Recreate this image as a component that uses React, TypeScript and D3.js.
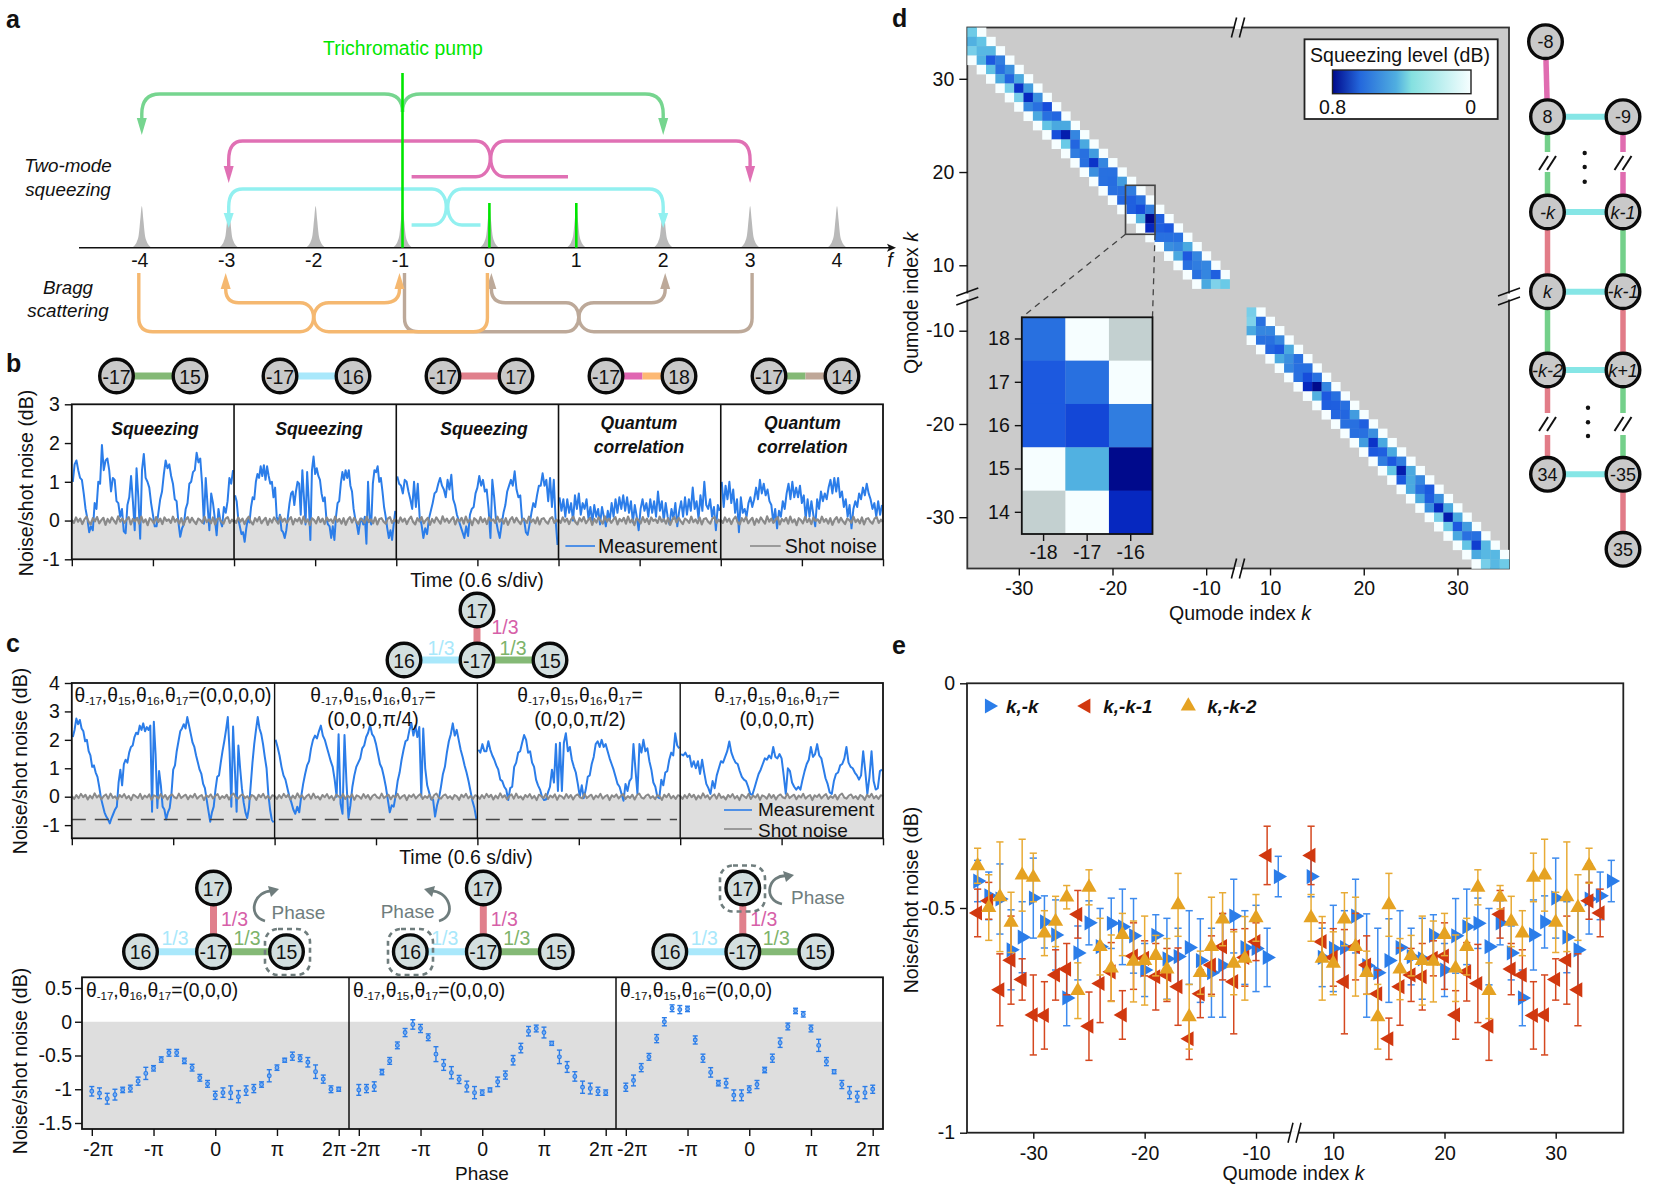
import React, {useEffect, useRef} from 'react';
import * as d3 from "d3"

const FONT = '"Liberation Sans", Arial, sans-serif'
const BLUE = '#2b7de9'
const GRAY_LINE = '#8a8a8a'
const LINK = {green:'#84b976', cyan:'#a9e8fb', red:'#e0808c', pink:'#e066b2', orange:'#fdb974', brown:'#bfa798'}

// panel a
const combLabels = [-4,-3,-2,-1,0,1,2,3,4]
const peakProfile:[number,number][] = [[-10,0],[-7,.06],[-5,.14],[-3,.32],[-1.5,.68],[0,1],[1.5,.68],[3,.32],[5,.14],[7,.06],[10,0]]

// panel b traces, noise/shot noise in dB
const traceB1 = [1.0,1.45,1.55,1.3,1.1,1.05,.7,.3,.05,-.3,-.15,-.25,.45,.3,1.0,.95,1.95,1.3,1.55,1.6,1.3,.75,1.1,1.05,.5,.45,.1,.3,-.28,-.33,.4,.6,1.15,.5,-.25,1.35,.6,-.47,1.3,1.72,1.1,1.0,.85,.45,.15,-.15,-.15,.2,.55,.75,1.2,1.55,1.35,1.45,1.15,.95,.55,.5,-.05,-.42,-.2,-.1,.3,.45,.95,1.0,1.25,1.3,1.75,1.5,1.6,.95,-.08,1.1,.4,-.25,.7,.45,.05,-.38,.3,0,-.15,.35,.2,.5,1.1,.95,1.3]
const traceB2 = [.65,.5,.05,-.15,-.35,-.3,-.55,-.2,.05,-.05,.35,.6,.55,1.0,1.2,1.1,1.4,1.15,1.43,1.05,1.4,1.15,.95,1.0,.6,.85,.1,-.05,.15,-.25,-.3,-.45,-.25,.1,.45,.7,.75,.4,.75,1.0,.95,.15,1.3,.6,-.1,1.25,.5,-.5,1.3,1.65,1.2,1.35,1.15,1.05,.7,.5,.6,.05,-.1,-.15,-.45,-.15,-.5,.1,.45,.5,.95,1.25,1.05,1.3,1.1,1.3,.9,.75,.3,.05,-.1,-.35,-.05,.05,-.1,.1,-.6,1.0,.1,-.1,.95,1.3,1.25,1.4,1.0,1.1,.75,.35,.1,-.2,-.45,-.25,-.5,-.1,.25]
const traceB3 = [1.14,.95,.9,.7,1.05,1.0,.75,.55,.3,1.0,.35,.95,.1,-.1,-.45,-.2,-.35,.05,.25,.45,.7,.75,.95,1.1,.9,.8,.6,1.05,.8,1.18,.55,.4,.15,0,-.15,-.3,-.45,-.15,-.4,.15,.3,.35,.7,.85,1.15,.9,1.05,.75,.8,.3,-.45,1.05,.6,0,-.25,-.45,-.1,.2,.4,.75,.9,1.05,.9,1.27,.8,.6,.65,0,.05,-.3,-.37,-.1,.2,.45,.35,.65,.9,.9,1.22,.9,1.05,.5,1.1,.35,1.05,0,-.63]
const traceB4 = [.6,.25,.55,.1,.55,.2,.45,0,.65,.3,.7,.15,.45,.3,.55,.05,.35,-.05,.4,.1,.3,-.1,.35,.1,-.15,.25,0,.45,.1,.55,.2,.6,.3,.65,.25,.6,.2,.5,-.05,.4,.1,-.25,.3,.55,.25,.45,.1,.55,.2,.5,.1,.75,.25,.5,0,.45,.1,-.1,.3,.05,.45,-.15,.25,.5,.1,.6,.15,.55,.25,.85,.3,.5,.05,.65,.25,1.0,.4,.3,.55,.1,.35,-.25,.4,.25]
const traceB5 = [1.0,.35,.9,.55,1.0,.45,.8,.2,.55,-.3,.6,.2,.3,.1,.45,.6,.35,.55,.85,.55,1.05,.7,.95,.65,.8,.5,.4,-.05,.3,-.2,.25,.1,.5,.3,.7,.95,.55,1.0,.6,.85,.6,.9,.45,.65,.05,.55,.1,.5,.15,-.15,.55,.3,.75,.5,.7,.55,.85,1.05,.7,1.1,.75,1.1,.6,.75,.35,.55,.1,.4,-.2,.3,.5,.35,.7,.55,.85,.65,.95,.7,.55,.3,.45,.1,.5,.15,.4]
const shotNoiseB = [.02,-.06,.08,-.03,.05,-.09,.03,.1,-.04,-.1,.06,-.02,.09,-.07,.01,.07,-.11,.04,-.05,.08,0,-.08,.11,-.03,.05,-.06,.02,.09,-.1,.04,-.02,.07,-.08,.1,-.05,.03,-.12,.06,.01,-.07,.09,-.04,.05,-.09,.08,-.01,.03,-.06,.1,-.03,.04,-.08,.06,-.11,.02,.09,-.05,.07,-.02,-.09,.05,.01,-.06,.1,-.04,.03,-.07,.08,-.1,.04,.06,-.03,-.08,.05,.09,-.06,.02,-.04]
const blockLabelsB = ['Squeezing','Squeezing','Squeezing',['Quantum','correlation'],['Quantum','correlation']]

// panel c traces
const traceC1 = [2.1,2.35,2.75,2.55,2.7,2.4,2.3,1.95,2.0,1.6,1.45,1.05,1.1,.85,.7,.35,-.05,-.3,-.55,-.7,-.8,-.94,-.75,-.6,-.45,-.35,.5,.95,.4,1.15,1.3,1.2,1.55,1.75,1.8,2.1,2.25,2.2,2.5,2.35,2.58,2.3,2.45,2.35,2.5,-.53,2.64,1.5,-.4,.9,.4,-.35,-.45,-.8,-.55,-.4,.1,.95,1.1,1.6,1.95,2.3,2.4,2.55,2.4,2.8,2.5,2.2,1.9,1.75,1.45,1.2,.95,.8,.45,.3,-.1,-.5,-.88,-.55,-.35,.25,.7,.75,1.2,1.6,1.95,2.35,2.8,1.6,-.35,2.47,1.0,-.53,1.8,1.0,.3,-.2,-.55,-.75,-.4,.4,1.2,1.85,2.35,2.8,2.4,2.2,1.85,1.4,1.0,.1,-.45,-.82,-.9]
const traceC2 = [2.0,1.75,1.45,1.05,.75,.6,.3,0,-.2,-.45,-.6,-.35,-.55,0,.45,.8,1.1,1.25,1.7,2.0,2.15,2.05,2.3,2.5,2.15,2.0,1.75,1.5,1.25,1.05,.6,0,2.2,-.25,-.6,2.17,.5,-.75,-.3,.35,.75,1.05,1.2,1.35,1.7,1.8,2.1,2.25,2.52,2.2,2.1,1.85,1.5,1.15,1.0,.7,.35,-.1,-.55,-.3,-.35,.05,.55,.85,1.3,1.65,1.95,2.0,2.35,2.58,2.15,2.5,2.1,2.45,0,2.4,1.0,.4,.15,-.1,-.1,-.7,-.3,-.05,.35,.8,1.05,1.55,1.95,2.2,2.58,2.15,2.35,2.0,1.65,1.4,1.1,.85,.55,.2,-.15,-.4,-.8]
const traceC3 = [1.65,1.55,1.85,1.6,1.6,1.95,1.65,1.45,1.3,1.1,.95,.6,.55,.35,.25,-.12,.3,.35,1.05,1.2,1.55,1.6,1.9,2.17,2.0,1.55,1.6,1.2,1.05,.6,.4,.25,0,-.12,-.1,.15,.35,.95,.5,1.85,.2,1.9,.2,1.9,2.23,1.6,1.75,1.3,1.05,.85,.45,0,.4,-.05,.25,.7,.75,1.15,1.4,1.85,1.95,1.75,2.0,1.75,1.85,1.6,1.35,1.15,.95,.7,.45,.35,.1,-.14,.45,.2,.55,.65,1.85,.95,.1,1.85,1.55,2.0,1.6,1.7,1.25,.95,.5,.35,0,-.05,.6,.4,.85,.9,1.3,1.55,1.45,2.23,1.8,1.7]
const traceC4 = [1.5,1.45,1.55,1.4,1.45,1.05,1.25,1.0,1.25,.8,1.3,.85,.45,.3,.1,.55,.3,.75,1.0,1.25,1.2,1.4,1.6,1.94,1.55,1.35,1.2,1.15,.9,.7,.6,.55,.35,.1,.06,.3,.55,.8,.95,1.15,1.35,1.3,1.45,1.35,1.75,1.4,1.35,1.5,1.35,.75,.1,1.0,.9,.5,.35,.25,.35,.25,.6,.9,1.15,1.3,1.75,1.4,1.5,1.85,1.45,1.35,1.0,.65,.45,.15,.1,.55,.8,.85,1.1,1.15,1.35,1.75,1.2,1.05,1.0,.85,.75,.6,.75,1.6,.9,.1,.7,1.6,.55,.25,.3,.9,.95]
const shotNoiseC = [.03,-.08,.06,-.05,.1,-.02,.07,-.1,.04,-.06,.12,-.03,.05,-.09,.02,.08,-.07,.11,-.04,.01,-.1,.06,-.02,.09,-.06,.03,-.12,.07,.02,-.05,.1,-.08,.04,-.03,.08,-.11,.05,.01,-.07,.09,-.04,.06,-.1,.03,.08,-.02,-.06,.11,-.05,.02,.07,-.09,.04,-.03,.1,-.07,.01,.06,-.12,.05,-.01,.08,-.06,.03,.09,-.08,.02,-.04,.07,-.1,.05,.11,-.03,-.07,.04,.08,-.05,.02,-.09,.06,.01,-.11,.07,-.02,.1,-.06,.03,-.08,.05,.02]

// panel c phase scans
const phase1 = [-1.03,-1.06,-1.14,-1.08,-1.01,-.99,-.88,-.765,-.69,-.56,-.46,-.46,-.58,-.68,-.83,-.92,-1.09,-1.05,-1.05,-1.11,-1.02,-.99,-.93,-.8,-.68,-.57,-.51,-.54,-.6,-.74,-.85,-1.0,-1.0]
const phase2 = [-1.01,-.99,-.96,-.745,-.58,-.35,-.16,-.04,-.1,-.23,-.48,-.64,-.755,-.855,-.96,-1.05,-1.05,-1.01,-.89,-.79,-.57,-.39,-.14,-.1,-.16,-.32,-.52,-.67,-.81,-.97,-.99,-1.03,-1.05]
const phase3 = [-.97,-.87,-.68,-.52,-.25,0,.2,.18,.19,-.27,-.54,-.75,-.91,-.91,-1.09,-1.09,-1.0,-.93,-.715,-.54,-.31,-.07,.16,.11,-.1,-.35,-.59,-.74,-.93,-1.05,-1.11,-1.05,-1.0]
const phaseErr1 = [.07,.08,.08,.08,.04,.05,.06,.09,.04,.04,.05,.05,.04,.05,.05,.05,.06,.07,.1,.09,.07,.06,.04,.09,.04,.03,.06,.05,.07,.1,.06,.05,.03]
const phaseErr2 = [.08,.06,.07,.04,.05,.05,.06,.07,.06,.05,.11,.08,.09,.06,.08,.09,.04,.03,.07,.06,.07,.07,.07,.05,.08,.03,.1,.08,.07,.09,.08,.06,.04]
const phaseErr3 = [.06,.08,.06,.05,.06,.06,.05,.06,.04,.06,.06,.07,.04,.07,.08,.08,.05,.06,.04,.06,.07,.05,.04,.04,.05,.09,.06,.03,.06,.09,.08,.09,.06]
const phaseTicks = [-2,-1,0,1,2]
const phaseTickLabels = ['-2π','-π','0','π','2π']

// panel d, squeezing level for columns -k-2, -k-1, -k of rows k = 35..8
const bandUpper = [[null,null,.32],[null,.4,.35],[.3,.38,.38],[.4,.62,.52],[.36,.55,.48],[.42,.58,.42],[.3,.7,.45],[.3,.72,.48],[.5,.55,.65],[.42,.55,.58],[.35,.42,.42],[.65,.75,.5],[.33,.58,.42],[.52,.55,.45],[.55,.7,.5],[.48,.55,.55],[.55,.56,.45],[.55,.55,.52],[.58,.6,.55],[.6,.65,.52],[.4,.8,.6],[.72,.6,.62],[.55,.55,.55],[.48,.5,.42],[.42,.62,.5],[.55,.52,.5],[.55,.5,.6],[.42,.28,.33]]
// columns m-2, m-1, m of rows -m, m = 8..35
const bandLower = [[null,null,.3],[null,.28,.55],[.42,.5,.5],[.55,.55,.5],[.58,.62,.42],[.42,.48,.55],[.5,.55,.55],[.55,.65,.55],[.72,.8,.5],[.4,.62,.55],[.6,.6,.55],[.58,.58,.45],[.55,.55,.6],[.55,.55,.48],[.45,.7,.42],[.62,.6,.42],[.52,.62,.52],[.35,.75,.42],[.62,.42,.5],[.42,.55,.62],[.42,.6,.48],[.48,.72,.42],[.3,.75,.42],[.32,.62,.45],[.42,.55,.55],[.35,.68,.38],[.42,.38,.38],[.3,.38,.32]]
const insetRows = [18,17,16,15,14]
const insetCols = [-18,-17,-16]
const insetValues = [[.55,0,null],[.62,.55,0],[.62,.66,.52],[0,.4,.8],[null,0,.72]]
const levelStops = [.8,.72,.64,.55,.43,.34,0]
const levelColors = ['#000a8c','#0628c0','#1852df','#2870e0','#47a5df','#66c8e6','#f6feff']
const barStops = [0,.2,.46,.57,1]
const barColors = ['#000a8c','#2468dc','#50aee0','#84e0e0','#f6feff']

// panel e, k = -35.. ; the positive side mirrors these
const pairKK = [-.44,-.473,-.48,-.593,-.565,-.478,-.531,-.56,-.7,-.6,-.533,-.586,-.534,-.542,-.562,-.638,-.561,-.613,-.608,-.588,-.617,-.644,-.628,-.518,-.588,-.59,-.61,-.43]
const pairKKErr = [.046,.053,.078,.089,.079,.089,.058,.078,.062,.06,.049,.085,.056,.084,.083,.059,.046,.09,.063,.082,.093,.099,.115,.082,.082,.096,.065,.045]
const pairK1 = [-.511,-.484,-.682,-.616,-.659,-.738,-.739,-.649,-.636,-.514,-.763,-.668,-.642,-.738,-.607,-.612,-.653,-.649,-.675,-.791,-.691,-.627,-.586,-.664,-.61,-.575,-.383]
const pairK1Err = [.053,.041,.08,.098,.046,.089,.075,.056,.057,.053,.076,.087,.065,.054,.074,.039,.074,.059,.086,.046,.053,.065,.074,.116,.064,.042,.065]
const pairK2 = [-.406,-.499,-.475,-.532,-.427,-.432,-.556,-.53,-.476,-.684,-.454,-.586,-.634,-.559,-.619,-.617,-.606,-.636,-.493,-.742,-.644,-.586,-.525,-.623,-.612,-.522]
const pairK2Err = [.039,.073,.122,.067,.08,.054,.05,.056,.026,.062,.039,.063,.074,.047,.09,.099,.045,.068,.07,.072,.048,.11,.059,.07,.093,.052]

const plain = (d:any) => String(d)

const txt = (g:any, x:number, y:number, s:string, o:any = {}) => {
  const t = g.append('text').attr('x', x).attr('y', y)
    .attr('text-anchor', o.anchor || 'middle')
    .attr('dominant-baseline', 'central')
    .attr('font-family', FONT)
    .attr('font-size', o.size || 19.5)
    .attr('fill', o.fill || '#111')
    .text(s)
  if (o.weight) t.attr('font-weight', o.weight)
  if (o.italic) t.attr('font-style', 'italic')
  if (o.rotate) t.attr('transform', `rotate(${o.rotate} ${x} ${y})`)
  return t
}

// mixed runs in one text element, used for "Qumode index k" and the theta labels
const runs = (g:any, x:number, y:number, parts:any[], o:any = {}) => {
  const t = txt(g, x, y, '', o)
  parts.forEach(p => {
    const s = t.append('tspan').text(p.s)
    if (p.italic) s.attr('font-style', 'italic')
    if (p.sub) s.attr('font-size', 11.5).attr('dy', 6)
    if (p.up) s.attr('dy', -6)
  })
  return t
}
const thetaParts = (subs:string[], tail:string) => {
  const parts:any[] = []
  subs.forEach((n, i) => {
    parts.push({s:'θ'})
    parts.push({s:n, sub:true})
    if (i < subs.length - 1) parts.push({s:',', up:true})
  })
  parts.push({s:tail, up:true})
  return parts
}

const link = (g:any, x1:number, y1:number, x2:number, y2:number, color:string, w = 7) =>
  g.append('line').attr('x1', x1).attr('y1', y1).attr('x2', x2).attr('y2', y2).attr('stroke', color).attr('stroke-width', w)

const node = (g:any, x:number, y:number, label:string, fill:string, o:any = {}) => {
  g.append('circle').attr('cx', x).attr('cy', y).attr('r', 16.8).attr('fill', fill).attr('stroke', '#0a0a0a').attr('stroke-width', 3.4)
  txt(g, x, y + .5, label, {size:o.size || 19.5, italic:o.italic})
}

const trace = (g:any, vals:number[], x0:number, x1:number, y:any, color:string, w:number) => {
  const x = d3.scaleLinear().domain([0, vals.length - 1]).range([x0, x1])
  const line = d3.line<number>().x((_, i) => x(i)).y(d => y(d))
  g.append('path').attr('d', line(vals)).attr('fill', 'none').attr('stroke', color).attr('stroke-width', w).attr('stroke-linejoin', 'round')
}

const styleAxis = (g:any, size = 19.5) => {
  g.select('.domain').remove()
  g.selectAll('text').attr('font-family', FONT).attr('font-size', size).attr('fill', '#111')
  g.selectAll('line').attr('stroke', '#111').attr('stroke-width', 1.4)
}

const errBar = (g:any, x:number, y0:number, y1:number, cap:number, color:string, w:number) => {
  g.append('line').attr('x1', x).attr('x2', x).attr('y1', y0).attr('y2', y1).attr('stroke', color).attr('stroke-width', w)
  ;[y0, y1].forEach(y => g.append('line').attr('x1', x - cap).attr('x2', x + cap).attr('y1', y).attr('y2', y).attr('stroke', color).attr('stroke-width', w))
}

const slashes = (g:any, x:number, y:number, dx:number, dy:number, gap:number, horizontal:boolean, w = 1.6) => {
  ;[-gap / 2, gap / 2].forEach(o => {
    const cx = horizontal ? x + o : x
    const cy = horizontal ? y : y + o
    g.append('line').attr('x1', cx - dx).attr('y1', cy + dy).attr('x2', cx + dx).attr('y2', cy - dy).attr('stroke', '#111').attr('stroke-width', w)
  })
}

function drawPanelA(svg:any) {
  const g = svg.append('g')
  const x = d3.scaleLinear().domain([-4, 4]).range([141.8, 837])
  const y0 = 247.7
  const y = d3.scaleLinear().domain([0, 1]).range([y0, 206])
  const area = d3.area<[number,number]>().x(d => d[0]).y0(y0).y1(d => y(d[1])).curve(d3.curveMonotoneX)
  combLabels.forEach(c => {
    g.append('path').attr('transform', `translate(${x(c)},0)`).attr('d', area(peakProfile)).attr('fill', '#b9b9b9')
    txt(g, x(c) - (c < 0 ? 2 : 0), 260, String(c), {size:19.5})
  })
  g.append('line').attr('x1', 79).attr('x2', 893).attr('y1', y0).attr('y2', y0).attr('stroke', '#111').attr('stroke-width', 1.4)
  g.append('path').attr('d', `M896,${y0} l-9,-4 l2,4 l-2,4 z`).attr('fill', '#111')
  txt(g, 890, 260, 'f', {italic:true})
  const stroke = (d:string, c:string, w = 3.4) => g.append('path').attr('d', d).attr('fill', 'none').attr('stroke', c).attr('stroke-width', w)
  const head = (tx:number, ty:number, dir:number, c:string, h = 17) =>
    g.append('path').attr('d', `M${tx},${ty} l-5,${-dir * h} l10,0 z`).attr('fill', c)

  const [xm4, xm3, xm1, x0p, x2, x3] = [x(-4), x(-3), x(-1), x(0), x(2), x(3)]

  stroke(`M${xm1},112 Q${xm1},94 ${xm1 - 18},94 H${xm4 + 18} Q${xm4},94 ${xm4},114 V120`, '#76d58f')
  stroke(`M${xm1},112 Q${xm1},94 ${xm1 + 18},94 H${x2 - 18} Q${x2},94 ${x2},114 V120`, '#76d58f')
  head(xm4, 135, 1, '#76d58f'); head(x2, 135, 1, '#76d58f')

  const pink = '#e070b4'
  stroke(`M411.6,176.7 H476 C495,176.7 495,141 476,141 H${xm3 + 14} Q${xm3},141 ${xm3},160 V168`, pink)
  stroke(`M568,176.7 H505 C486,176.7 486,141 505,141 H${x3 - 14} Q${x3},141 ${x3},160 V168`, pink)
  head(xm3, 183, 1, pink); head(x3, 183, 1, pink)

  const cyan = '#92f0f0'
  stroke(`M411.6,225 H432 C451,225 451,189 432,189 H${xm3 + 14} Q${xm3},189 ${xm3},207 V214`, cyan)
  stroke(`M480.5,225 H462 C443,225 443,189 462,189 H${x2 - 14} Q${x2},189 ${x2},207 V214`, cyan)
  head(xm3, 228, 1, cyan, 15); head(x2, 228, 1, cyan, 15)

  const orange = '#f5b870', brown = '#bda999'
  stroke(`M${xm1 + 2},273 V318 Q${xm1 + 2},331.7 ${xm1 + 16},331.7 H566 C583,331.7 583,302.7 566,302.7 H${x0p + 16} Q${x0p + 2},302.7 ${x0p + 2},289`, brown)
  stroke(`M${x3 + 2},273 V318 Q${x3 + 2},331.7 ${x3 - 12},331.7 H594 C574,331.7 574,302.7 594,302.7 H${x2 - 12} Q${x2 + 2},302.7 ${x2 + 2},289`, brown)
  head(x0p + 2, 273, -1, brown, 16); head(x2 + 2, 273, -1, brown, 16)
  stroke(`M${xm4 - 3},273 V318 Q${xm4 - 3},331.7 ${xm4 + 11},331.7 H300 C318,331.7 318,302.7 300,302.7 H${xm3 + 10} Q${xm3 - 3},302.7 ${xm3 - 3},289`, orange)
  stroke(`M${x0p - 2},273 V318 Q${x0p - 2},331.7 ${x0p - 16},331.7 H329 C309,331.7 309,302.7 329,302.7 H${xm1 - 18} Q${xm1 - 3},302.7 ${xm1 - 3},289`, orange)
  head(xm3 - 3, 273, -1, orange, 16); head(xm1 - 3, 273, -1, orange, 16)

  const pump = '#00e600'
  g.append('line').attr('x1', xm1).attr('x2', xm1).attr('y1', 73).attr('y2', y0).attr('stroke', pump).attr('stroke-width', 2.6)
  ;[0, 1].forEach(c => g.append('line').attr('x1', x(c)).attr('x2', x(c)).attr('y1', 203).attr('y2', y0).attr('stroke', pump).attr('stroke-width', 2.6))

  txt(g, 403, 48, 'Trichromatic pump', {fill:pump, size:19.4})
  txt(g, 68, 165, 'Two-mode', {italic:true, size:18.8})
  txt(g, 68, 189, 'squeezing', {italic:true, size:18.8})
  txt(g, 68, 287, 'Bragg', {italic:true, size:18.8})
  txt(g, 68, 310, 'scattering', {italic:true, size:18.8})
}

function drawPanelB(svg:any) {
  const g = svg.append('g')
  const xP = d3.scaleLinear().domain([0, 5]).range([71.8, 883])
  const y = d3.scaleLinear().domain([-1, 3]).range([559.3, 404.3])
  g.append('rect').attr('x', xP(0)).attr('y', y(0)).attr('width', xP(5) - xP(0)).attr('height', y(-1) - y(0)).attr('fill', '#dedede')
  const traces = [traceB1, traceB2, traceB3, traceB4, traceB5]
  traces.forEach((t, i) => trace(g, t, xP(i) + 1, xP(i + 1) - 1, y, BLUE, 2))
  traces.forEach((_, i) => trace(g, shotNoiseB, xP(i), xP(i + 1), y, GRAY_LINE, 2.2))
  g.append('rect').attr('x', xP(0)).attr('y', y(3)).attr('width', xP(5) - xP(0)).attr('height', y(-1) - y(3)).attr('fill', 'none').attr('stroke', '#111').attr('stroke-width', 1.8)
  d3.range(1, 5).forEach(i => g.append('line').attr('x1', xP(i)).attr('x2', xP(i)).attr('y1', y(3)).attr('y2', y(-1)).attr('stroke', '#111').attr('stroke-width', 1.6))
  styleAxis(g.append('g').attr('transform', 'translate(71.8,0)').call(d3.axisLeft(y).tickValues([-1,0,1,2,3]).tickSize(7).tickPadding(5).tickFormat(plain)))
  const xT = d3.scaleLinear().domain([0, 10]).range([71.8, 883])
  styleAxis(g.append('g').attr('transform', 'translate(0,559.3)').call(d3.axisBottom(xT).tickValues(d3.range(0, 11)).tickSize(7).tickFormat(() => '')))
  txt(g, 26, 483, 'Noise/shot noise (dB)', {rotate:-90})
  txt(g, 477, 580, 'Time (0.6 s/div)')
  const centers = [155, 319, 484, 639, 802.5]
  blockLabelsB.forEach((l, i) => {
    if (typeof l === 'string') txt(g, centers[i], 429, l, {italic:true, weight:'bold', size:17.5})
    else l.forEach((s, j) => txt(g, centers[i], 423 + j * 24, s, {italic:true, weight:'bold', size:17.5}))
  })
  g.append('line').attr('x1', 565.4).attr('x2', 595).attr('y1', 546).attr('y2', 546).attr('stroke', BLUE).attr('stroke-width', 1.6)
  txt(g, 598, 546, 'Measurement', {anchor:'start'})
  g.append('line').attr('x1', 750).attr('x2', 780.7).attr('y1', 546).attr('y2', 546).attr('stroke', GRAY_LINE).attr('stroke-width', 1.6)
  txt(g, 784.7, 546, 'Shot noise', {anchor:'start'})

  const fill = '#c9c9c9'
  const yN = 376
  const pairs:[number,number,string,string[]][] = [
    [116.5,190,'15',[LINK.green]],[280,353,'16',[LINK.cyan]],[443,516,'17',[LINK.red]],
    [606,679,'18',[LINK.pink,LINK.orange]],[769,842,'14',[LINK.green,LINK.brown]],
  ]
  pairs.forEach(([a, b, lab, cols]) => {
    const mid = (a + b) / 2
    if (cols.length === 1) link(g, a, yN, b, yN, cols[0])
    else { link(g, a, yN, mid, yN, cols[0]); link(g, mid, yN, b, yN, cols[1]) }
    node(g, a, yN, '-17', fill); node(g, b, yN, lab, fill)
  })
}

const STAR_FILL = '#d3dfdf'
const star = (g:any, cx:number, top:number, mid:number, pinkDx:number, sideDy:number, sideDx:number[]) => {
  link(g, cx, top, cx, mid, LINK.red)
  link(g, cx - 73, mid, cx, mid, LINK.cyan)
  link(g, cx, mid, cx + 73, mid, LINK.green)
  node(g, cx, top, '17', STAR_FILL); node(g, cx - 73, mid, '16', STAR_FILL); node(g, cx, mid, '-17', STAR_FILL); node(g, cx + 73, mid, '15', STAR_FILL)
  txt(g, cx + pinkDx, mid - 33, '1/3', {fill:'#d65fa8'})
  txt(g, cx - sideDx[0], mid - sideDy, '1/3', {fill:LINK.cyan})
  txt(g, cx + sideDx[1], mid - sideDy, '1/3', {fill:'#7db36a'})
}

function drawPanelC(svg:any) {
  const g = svg.append('g')
  const xP = d3.scaleLinear().domain([0, 4]).range([71.8, 883])
  const y = d3.scaleLinear().domain([0, 4]).range([796.7, 683])
  const bottom = 838.3
  g.append('rect').attr('x', xP(0)).attr('y', y(0)).attr('width', xP(4) - xP(0)).attr('height', bottom - y(0)).attr('fill', '#dedede')
  const traces = [traceC1, traceC2, traceC3, traceC4]
  traces.forEach((t, i) => trace(g, t, xP(i) + 1, xP(i + 1) - 1, y, BLUE, 2))
  traces.forEach((_, i) => trace(g, shotNoiseC, xP(i), xP(i + 1), y, GRAY_LINE, 2))
  g.append('line').attr('x1', xP(0)).attr('x2', 677).attr('y1', y(-.8)).attr('y2', y(-.8)).attr('stroke', '#444').attr('stroke-width', 1.5).attr('stroke-dasharray', '14 9')
  g.append('rect').attr('x', xP(0)).attr('y', y(4)).attr('width', xP(4) - xP(0)).attr('height', bottom - y(4)).attr('fill', 'none').attr('stroke', '#111').attr('stroke-width', 1.8)
  d3.range(1, 4).forEach(i => g.append('line').attr('x1', xP(i)).attr('x2', xP(i)).attr('y1', y(4)).attr('y2', bottom).attr('stroke', '#111').attr('stroke-width', 1.4))
  styleAxis(g.append('g').attr('transform', 'translate(71.8,0)').call(d3.axisLeft(y).tickValues([-1,0,1,2,3,4]).tickSize(7).tickPadding(5).tickFormat(plain)))
  const xT = d3.scaleLinear().domain([0, 8]).range([71.8, 883])
  styleAxis(g.append('g').attr('transform', `translate(0,${bottom})`).call(d3.axisBottom(xT).tickValues(d3.range(0, 9)).tickSize(7).tickFormat(() => '')))
  txt(g, 20, 761, 'Noise/shot noise (dB)', {rotate:-90})
  txt(g, 466, 857, 'Time (0.6 s/div)')

  const subs4 = ['-17','15','16','17']
  runs(g, 173, 695, thetaParts(subs4, '=(0,0,0,0)'), {size:19.3})
  ;[[373,'(0,0,0,π/4)'],[580,'(0,0,0,π/2)'],[777,'(0,0,0,π)']].forEach(([cx, s]:any) => {
    runs(g, cx, 695, thetaParts(subs4, '='), {size:19.3})
    txt(g, cx, 719, s, {size:19.5})
  })
  g.append('line').attr('x1', 724).attr('x2', 752).attr('y1', 810).attr('y2', 810).attr('stroke', BLUE).attr('stroke-width', 1.6)
  txt(g, 758, 809, 'Measurement', {anchor:'start', size:19})
  g.append('line').attr('x1', 724).attr('x2', 752).attr('y1', 829).attr('y2', 829).attr('stroke', GRAY_LINE).attr('stroke-width', 1.6)
  txt(g, 758, 830, 'Shot noise', {anchor:'start', size:19})

  star(g, 477, 610, 660, 28, 12.5, [36, 36])

  // phase scans
  const edge = d3.scaleLinear().domain([0, 3]).range([82, 883])
  const yS = d3.scaleLinear().domain([-1.5, .5]).range([1123, 988])
  const series = [phase1, phase2, phase3]
  const errs = [phaseErr1, phaseErr2, phaseErr3]
  const top = 977.3, base = 1129
  g.append('rect').attr('x', edge(0)).attr('y', yS(0)).attr('width', edge(3) - edge(0)).attr('height', base - yS(0)).attr('fill', '#dedede')
  series.forEach((vals, p) => {
    const x = d3.scaleLinear().domain([-2, 2]).range([edge(p) + 9.8, edge(p) + 256.7])
    const xi = d3.scaleLinear().domain([0, vals.length - 1]).range([-2, 2])
    vals.forEach((v, i) => {
      errBar(g, x(xi(i)), yS(v + errs[p][i]), yS(v - errs[p][i]), 2.5, BLUE, 1.4)
      g.append('circle').attr('cx', x(xi(i))).attr('cy', yS(v)).attr('r', 1.9).attr('fill', '#7fb2f0').attr('stroke', BLUE).attr('stroke-width', 1.1)
    })
    const ax = g.append('g').attr('transform', `translate(0,${base})`).call(d3.axisBottom(x).tickValues(phaseTicks).tickSize(7).tickPadding(6).tickFormat((_:any, i:number) => phaseTickLabels[i]))
    styleAxis(ax)
    ax.selectAll('text').attr('dx', (_:any, i:number) => i === 0 ? 6 : i === 4 ? -5 : 0)
    const parts = [['-17','16','17'],['-17','15','17'],['-17','15','16']][p]
    runs(g, edge(p) + 4, 990, thetaParts(parts, '=(0,0,0)'), {size:19.3, anchor:'start'})
  })
  g.append('rect').attr('x', edge(0)).attr('y', top).attr('width', edge(3) - edge(0)).attr('height', base - top).attr('fill', 'none').attr('stroke', '#111').attr('stroke-width', 1.8)
  ;[1, 2].forEach(i => g.append('line').attr('x1', edge(i)).attr('x2', edge(i)).attr('y1', top).attr('y2', base).attr('stroke', '#111').attr('stroke-width', 1.5))
  styleAxis(g.append('g').attr('transform', `translate(${edge(0)},0)`).call(d3.axisLeft(yS).tickValues([-1.5,-1,-.5,0,.5]).tickSize(7).tickPadding(3).tickFormat(plain)))
  txt(g, 20, 1061, 'Noise/shot noise (dB)', {rotate:-90})
  txt(g, 482, 1173, 'Phase', {size:19})

  star(g, 213.5, 888, 951.7, 21, 14, [38.5, 33.5])
  star(g, 483.3, 888, 951.7, 21, 14, [38.5, 33.5])
  star(g, 742.8, 888, 951.7, 21, 14, [38.5, 33.5])

  const GR = '#6f7d7d'
  const dash = (x:number, y:number) => g.append('rect').attr('x', x).attr('y', y).attr('width', 45).attr('height', 46).attr('rx', 13).attr('fill', 'none').attr('stroke', GR).attr('stroke-width', 2.6).attr('stroke-dasharray', '5 4')
  dash(265, 929); dash(388, 929); dash(720, 865.5)
  const arc = (d:string, tip:string) => {
    g.append('path').attr('d', d).attr('fill', 'none').attr('stroke', GR).attr('stroke-width', 2.8)
    g.append('path').attr('d', tip).attr('fill', GR)
  }
  arc('M274,891 C254,889 246,916 265,921', 'M279,889 l-11,-3 l3,11 z')
  arc('M429,891 C449,889 458,916 439,921', 'M424,889 l11,-3 l-3,11 z')
  arc('M788,876 C768,873 762,900 782,904', 'M794,875 l-11,-4 l3,11 z')
  txt(g, 298.5, 912.7, 'Phase', {fill:GR, size:19})
  txt(g, 407.6, 911.7, 'Phase', {fill:GR, size:19})
  txt(g, 818, 897, 'Phase', {fill:GR, size:19})
}

function drawPanelD(svg:any) {
  const g = svg.append('g')
  const xNeg = d3.scaleLinear().domain([-35.5, -7.5]).range([967.3, 1229.6])
  const xPos = d3.scaleLinear().domain([7.5, 35.5]).range([1246.6, 1509])
  const yPos = d3.scaleLinear().domain([35.5, 7.5]).range([27.5, 288.6])
  const yNeg = d3.scaleLinear().domain([-7.5, -35.5]).range([307.4, 568.5])
  const color = d3.scaleLinear<string>().domain(levelStops).range(levelColors)
  const left = 967.3, right = 1509, top = 27.5, bottom = 568.5

  g.append('rect').attr('x', left).attr('y', top).attr('width', right - left).attr('height', bottom - top).attr('fill', '#cbcbcb').attr('stroke', '#333').attr('stroke-width', 1.8)

  const cell = (x:any, y:any, col:number, row:number, v:number) =>
    g.append('rect').attr('x', x(col - .5)).attr('y', y(row + .5)).attr('width', x(col + .5) - x(col - .5) + .3).attr('height', y(row - .5) - y(row + .5) + .3).attr('fill', color(v))

  bandUpper.forEach((vals, i) => {
    const k = 35 - i
    ;[-k - 3, -k + 1].forEach(c => { if (c >= -35 && c <= -8) cell(xNeg, yPos, c, k, 0) })
    vals.forEach((v, j) => { if (v !== null) cell(xNeg, yPos, -k - 2 + j, k, v) })
  })
  bandLower.forEach((vals, i) => {
    const m = 8 + i
    ;[m - 3, m + 1].forEach(c => { if (c >= 8 && c <= 35) cell(xPos, yNeg, c, -m, 0) })
    vals.forEach((v, j) => { if (v !== null) cell(xPos, yNeg, m - 2 + j, -m, v) })
  })

  styleAxis(g.append('g').attr('transform', `translate(${left},0)`).call(d3.axisLeft(yPos).tickValues([10,20,30]).tickSize(8).tickPadding(5).tickFormat(plain)))
  styleAxis(g.append('g').attr('transform', `translate(${left},0)`).call(d3.axisLeft(yNeg).tickValues([-10,-20,-30]).tickSize(8).tickPadding(5).tickFormat(plain)))
  styleAxis(g.append('g').attr('transform', `translate(0,${bottom})`).call(d3.axisBottom(xNeg).tickValues([-30,-20,-10]).tickSize(7).tickPadding(6).tickFormat(plain)))
  styleAxis(g.append('g').attr('transform', `translate(0,${bottom})`).call(d3.axisBottom(xPos).tickValues([10,20,30]).tickSize(7).tickPadding(6).tickFormat(plain)))
  runs(g, 1240, 613, [{s:'Qumode index '},{s:'k', italic:true}])
  runs(g, 911, 303, [{s:'Qumode index '},{s:'k', italic:true}], {rotate:-90})

  ;[[1238, top], [1238, bottom]].forEach(([x, y]) => {
    g.append('line').attr('x1', x - 3).attr('x2', x + 3).attr('y1', y).attr('y2', y).attr('stroke', '#fff').attr('stroke-width', 3)
    slashes(g, x, y, 2.6, 10, 8, true)
  })
  ;[[left, 296.5], [right, 296.5]].forEach(([x, y]) => {
    g.append('line').attr('x1', x).attr('x2', x).attr('y1', y - 3).attr('y2', y + 3).attr('stroke', '#fff').attr('stroke-width', 3)
    slashes(g, x, y, 11, 4, 9, false)
  })

  // inset
  const ix = d3.scaleBand<number>().domain(insetCols).range([1021.8, 1152.5])
  const iy = d3.scaleBand<number>().domain(insetRows).range([317.3, 534])
  g.append('line').attr('x1', 1125.5).attr('y1', 234.3).attr('x2', 1021.8).attr('y2', 317.3).attr('stroke', '#444').attr('stroke-width', 1.3).attr('stroke-dasharray', '6 5')
  g.append('line').attr('x1', 1155).attr('y1', 234.3).attr('x2', 1152.5).attr('y2', 317.3).attr('stroke', '#444').attr('stroke-width', 1.3).attr('stroke-dasharray', '6 5')
  insetRows.forEach((r, i) => insetCols.forEach((c, j) => {
    const v = insetValues[i][j]
    g.append('rect').attr('x', ix(c)).attr('y', iy(r)).attr('width', ix.bandwidth() + .3).attr('height', iy.bandwidth() + .3).attr('fill', v === null ? '#c3d0d0' : color(v))
  }))
  g.append('rect').attr('x', 1021.8).attr('y', 317.3).attr('width', 130.7).attr('height', 216.7).attr('fill', 'none').attr('stroke', '#111').attr('stroke-width', 1.8)
  styleAxis(g.append('g').attr('transform', 'translate(1021.8,0)').call(d3.axisLeft(iy).tickSize(7).tickPadding(5).tickFormat(plain)))
  styleAxis(g.append('g').attr('transform', 'translate(0,534)').call(d3.axisBottom(ix).tickSize(7).tickPadding(4).tickFormat(plain)))
  g.append('rect').attr('x', 1125.5).attr('y', 185.3).attr('width', 29.5).attr('height', 49).attr('fill', 'none').attr('stroke', '#444').attr('stroke-width', 1.6)

  // colour bar
  const gid = 'levelBar'
  const grad = svg.append('defs').append('linearGradient').attr('id', gid)
  barStops.forEach((s, i) => grad.append('stop').attr('offset', s).attr('stop-color', barColors[i]))
  g.append('rect').attr('x', 1304.5).attr('y', 39.3).attr('width', 193.2).attr('height', 79.7).attr('fill', '#fff').attr('stroke', '#222').attr('stroke-width', 1.8)
  txt(g, 1400, 55, 'Squeezing level (dB)', {size:19.5})
  g.append('rect').attr('x', 1332.5).attr('y', 70).attr('width', 138.5).attr('height', 23.7).attr('fill', `url(#${gid})`).attr('stroke', '#222').attr('stroke-width', 1.4)
  txt(g, 1332.5, 107, '0.8', {size:19.5})
  txt(g, 1470.6, 107, '0', {size:19.5})

  // mode chain
  const c1 = 1547.5, c2 = 1623
  const f = '#c9c9c9'
  const w = 5.5
  const teal = '#86e6e6', grn = '#74d08a', red = '#e27c88', pnk = '#e06cb0'
  link(g, c1 - 2, 41.7, c1, 116.7, pnk, w)
  link(g, c1, 116.7, c1, 152, grn, w); link(g, c1, 172, c1, 212, grn, w)
  link(g, c1, 212, c1, 291.7, red, w)
  link(g, c1, 291.7, c1, 370, grn, w)
  link(g, c1, 370, c1, 413, red, w); link(g, c1, 435, c1, 474.3, red, w)
  link(g, c2, 116.7, c2, 152, pnk, w); link(g, c2, 172, c2, 212, pnk, w)
  link(g, c2, 212, c2, 291.7, grn, w)
  link(g, c2, 291.7, c2, 370, red, w)
  link(g, c2, 370, c2, 413, grn, w); link(g, c2, 435, c2, 474.3, grn, w)
  link(g, c2, 474.3, c2, 549.3, red, w)
  ;[116.7, 212, 291.7, 370, 474.3].forEach(y => link(g, c1, y, c2, y, teal, 6))
  ;[[c1, 163], [c2, 163], [c1, 424], [c2, 424]].forEach(([x, y]) => slashes(g, x, y, 4.5, 7, 8, true, 2))
  ;[153, 167, 181.7, 407.7, 422.3, 436].forEach((y, i) => g.append('circle').attr('cx', i < 3 ? 1584.7 : 1588).attr('cy', y).attr('r', 2.2).attr('fill', '#111'))
  node(g, c1 - 2, 41.7, '-8', f, {size:18})
  node(g, c1, 116.7, '8', f, {size:18}); node(g, c2, 116.7, '-9', f, {size:18})
  node(g, c1, 212, '-k', f, {size:18, italic:true}); node(g, c2, 212, 'k-1', f, {size:18, italic:true})
  node(g, c1, 291.7, 'k', f, {size:18, italic:true}); node(g, c2, 291.7, '-k-1', f, {size:18, italic:true})
  node(g, c1, 370, '-k-2', f, {size:18, italic:true}); node(g, c2, 370, 'k+1', f, {size:18, italic:true})
  node(g, c1, 474.3, '34', f, {size:18}); node(g, c2, 474.3, '-35', f, {size:18})
  node(g, c2, 549.3, '35', f, {size:18})
}

function drawPanelE(svg:any) {
  const g = svg.append('g')
  const left = 967, right = 1623.3, top = 683.3, bottom = 1132.7
  const xNeg = d3.scaleLinear().domain([-30, -10]).range([1033.3, 1256])
  const xPos = d3.scaleLinear().domain([10, 30]).range([1333.3, 1555.7])
  const y = d3.scaleLinear().domain([-1, 0]).range([bottom, top])

  g.append('rect').attr('x', left).attr('y', top).attr('width', right - left).attr('height', bottom - top).attr('fill', '#fff').attr('stroke', '#222').attr('stroke-width', 1.8)

  const tri = d3.symbol().type(d3.symbolTriangle).size(100)
  const plot = (vals:number[], errs:number[], mirror:number, color:string, barColor:string, rot:number) => {
    const kNeg = (i:number) => -35 + i
    const draw = (x:number, v:number, e:number) => {
      errBar(g, x, y(v + e), y(v - e), 3.6, barColor, 1.5)
    }
    vals.forEach((v, i) => {
      draw(xNeg(kNeg(i)), v, errs[i])
      draw(xPos(-kNeg(i) - mirror), v, errs[i])
    })
    vals.forEach((v, i) => {
      ;[xNeg(kNeg(i)), xPos(-kNeg(i) - mirror)].forEach(x =>
        g.append('path').attr('d', tri()).attr('fill', color).attr('transform', `translate(${x},${y(v)}) rotate(${rot})`))
    })
  }
  plot(pairKK, pairKKErr, 0, '#2b7de9', '#3d8bee', 90)
  plot(pairK1, pairK1Err, 1, '#d1380f', '#d5481f', -90)
  plot(pairK2, pairK2Err, 2, '#e5a222', '#e8ab35', 0)

  styleAxis(g.append('g').attr('transform', `translate(${left},0)`).call(d3.axisLeft(y).tickValues([-1,-.5,0]).tickSize(7).tickPadding(5).tickFormat(plain)))
  styleAxis(g.append('g').attr('transform', `translate(0,${bottom})`).call(d3.axisBottom(xNeg).tickValues([-30,-20,-10]).tickSize(6).tickPadding(7).tickFormat(plain)))
  styleAxis(g.append('g').attr('transform', `translate(0,${bottom})`).call(d3.axisBottom(xPos).tickValues([10,20,30]).tickSize(6).tickPadding(7).tickFormat(plain)))
  g.append('line').attr('x1', 1291).attr('x2', 1298).attr('y1', bottom).attr('y2', bottom).attr('stroke', '#fff').attr('stroke-width', 3)
  slashes(g, 1294.5, bottom, 2.5, 10, 8, true)

  txt(g, 911, 900, 'Noise/shot noise (dB)', {rotate:-90})
  runs(g, 1293.5, 1173, [{s:'Qumode index '},{s:'k', italic:true}])

  const legend:[number,number,string,number,string][] = [[989.3,90,'#2b7de9',1006,'k,-k'],[1086,-90,'#d1380f',1103.3,'k,-k-1'],[1188.3,0,'#e5a222',1207.3,'k,-k-2']]
  legend.forEach(([x, rot, c, tx, s]) => {
    g.append('path').attr('d', tri()).attr('fill', c).attr('transform', `translate(${x},706) rotate(${rot})`)
    txt(g, tx, 706, s, {anchor:'start', italic:true, weight:'bold', size:18.8})
  })
}

export default function App() {
  const ref = useRef<SVGSVGElement>(null)

  useEffect(() => {
    const svg = d3.select(ref.current)
    svg.selectAll('*').remove()
    drawPanelA(svg)
    drawPanelB(svg)
    drawPanelC(svg)
    drawPanelD(svg)
    drawPanelE(svg)
    ;[['a', 6, 19], ['b', 6, 363], ['c', 6, 643], ['d', 892, 18], ['e', 892, 645]].forEach(([s, x, y]:any) =>
      txt(svg, x, y, s, {anchor:'start', weight:'bold', size:25}))
  }, [])

  return <svg ref={ref} width={1661} height={1190} style={{position:'absolute', left:0, top:0, background:'#fff'}} />
}
